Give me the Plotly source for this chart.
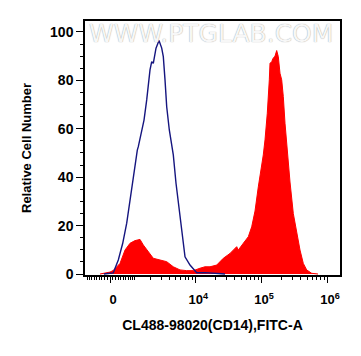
import numpy as np
import plotly.graph_objects as go

# ---- data (fluorescence intensity, relative cell number) ----
iso_x = [-220, 0, 118, 301, 470, 632, 776, 929, 1064, 1132, 1186, 1380, 1523, 1703, 1817,
         1944, 2078, 2210, 2450, 2742, 3031, 3214, 3420, 3637, 3996, 4356, 4612, 5079, 5854,
         6440, 6985, 8329, 10539, 14091, 21205, 28350]
iso_y = [0, 0.2, 0.5, 5.8, 12.7, 21, 30.6, 40.2, 49.2, 51.2, 52.6, 59.5, 63.6, 71.9, 78.8,
         84.3, 87.7, 87, 93.3, 96.4, 93.3, 89.8, 80.2, 69.1, 59.5, 54, 49.2, 37.5, 23.7,
         12.7, 7.1, 3.7, 0.5, 0.6, 0.4, 0]

cd14_x = [-365, -180, 0, 118, 242, 365, 562, 776, 1013, 1186, 1281, 1479, 1817, 2210, 2846,
          3637, 4612, 5854, 7416, 9355, 11830, 14091, 16785, 21205, 26707, 33745, 42640, 45093,
          53680, 63910, 71955, 80746, 90596, 101984, 107833, 114450, 123992, 132970, 136253,
          144563, 151335, 162262, 172163, 182012, 193196, 204995, 216743, 230029, 249215,
          273839, 307287, 345967, 388238, 435640, 490428, 583794, 727434]
cd14_y = [0, 0.3, 0.8, 1.5, 3, 4.4, 9.9, 12.7, 13.8, 14.3, 14.3, 12, 9.2, 6.5, 5.8, 5.1, 3,
          1.7, 1.4, 1.4, 2.4, 3.0, 3.0, 3.7, 6.5, 8.5, 11.3, 9.9, 12.7, 15.4, 19.5, 26, 36, 44,
          49.2, 55.4, 66.4, 80.2, 87, 87.7, 89, 90, 92.3, 89.8, 82.9, 80.2, 73.3, 62.3, 49.2,
          38, 25, 16.8, 9.9, 4.4, 1.7, 0.3, 0]

x_tick_vals = [0, 1e4, 1e5, 1e6]
x_tick_text = ["0", "10<sup>4</sup>", "10<sup>5</sup>", "10<sup>6</sup>"]
y_tick_vals = [0, 20, 40, 60, 80, 100]

x_title = "CL488-98020(CD14),FITC-A"
y_title = "Relative Cell Number"
watermark = "WWW.PTGLAB.COM"

# ---- biexponential-like display transform ----
W = 1026.0
def tr(v):
    return np.arcsinh(np.asarray(v, dtype=float) / W) / np.log(10)

minor_vals = ([-m * 100 for m in range(1, 10)] + [m * 100 for m in range(1, 10)] +
              [1000] + [m * 1000 for m in range(2, 10)] + [m * 10000 for m in range(2, 10)] +
              [m * 100000 for m in range(2, 10)])

FONT = "Arial, Liberation Sans, sans-serif"

fig = go.Figure()
fig.add_trace(go.Scatter(x=tr(cd14_x), y=cd14_y, mode="lines", fill="tozeroy",
                         line=dict(color="#ff0000", width=1), fillcolor="#ff0000",
                         hoverinfo="skip", showlegend=False))
fig.add_trace(go.Scatter(x=tr(iso_x), y=iso_y, mode="lines",
                         line=dict(color="#15157f", width=1.4),
                         hoverinfo="skip", showlegend=False))

fig.add_annotation(x=0.494, y=0.949, xref="paper", yref="paper", text=watermark,
                   xanchor="center", yanchor="middle", showarrow=False,
                   font=dict(family="DejaVu Sans", size=25, color="#f7f7f7",
                             shadow="0px 0px 1px #8c8c8c"))

# page body has an 8px default margin, so the figure is shrunk and shifted accordingly
fig.update_layout(
    width=353, height=348,
    margin=dict(l=77, r=21, t=13, b=81, autoexpand=False),
    paper_bgcolor="white", plot_bgcolor="white",
    font=dict(family=FONT, color="black"),
    xaxis=dict(
        range=[-0.379, 3.485], tickmode="array", tickvals=tr(x_tick_vals), ticktext=x_tick_text,
        ticks="outside", ticklen=6, tickwidth=1.3, tickcolor="black",
        showline=True, linecolor="black", linewidth=1.5, mirror=True, automargin=False,
        showgrid=False, zeroline=False, ticklabelstandoff=6, ticklabelshift=3,
        tickfont=dict(family=FONT, size=13, color="black", weight="bold"),
        minor=dict(tickmode="array", tickvals=tr(minor_vals), ticks="outside",
                   ticklen=3, tickwidth=1, tickcolor="black", showgrid=False),
        title=dict(text=x_title, standoff=14,
                   font=dict(family=FONT, size=14, color="black", weight="bold")),
    ),
    yaxis=dict(
        range=[-0.4, 104.5], tickmode="array", tickvals=y_tick_vals,
        ticks="outside", ticklen=7, tickwidth=1.3, tickcolor="black",
        showline=True, linecolor="black", linewidth=1.5, mirror=True, automargin=False,
        showgrid=False, zeroline=False,
        tickfont=dict(family=FONT, size=14, color="black", weight="bold"),
        minor=dict(dtick=5, ticks="outside", ticklen=3, tickwidth=1,
                   tickcolor="black", showgrid=False),
        title=dict(text=y_title, standoff=16,
                   font=dict(family=FONT, size=13, color="black", weight="bold")),
    ),
)

fig.write_html("out.html")
